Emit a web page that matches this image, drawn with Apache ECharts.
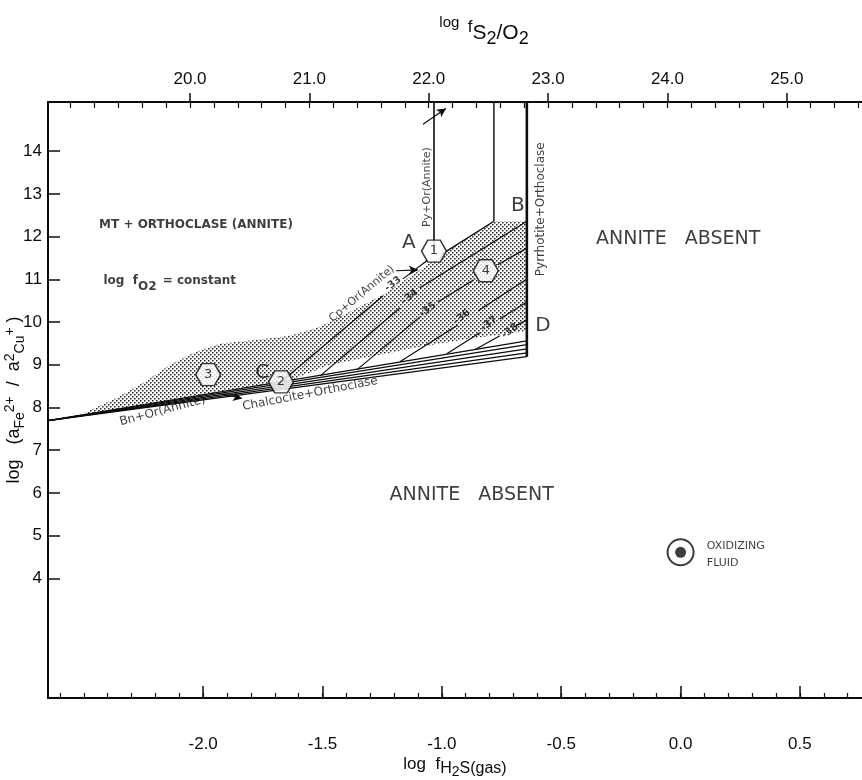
<!DOCTYPE html>
<html><head><meta charset="utf-8">
<script src="https://cdn.jsdelivr.net/npm/echarts@6/dist/echarts.min.js"></script>
<style>html,body{margin:0;padding:0;background:#fff}#c{width:862px;height:780px}</style>
</head><body><div id="c"></div>
<script>
// ---------- axis ticks ----------
const bottomMajorTicks = [-2.0, -1.5, -1.0, -0.5, 0.0, 0.5];
const bottomMinorTicks = [-2.6,-2.5,-2.4,-2.3,-2.2,-2.1,-2.0,-1.9,-1.8,-1.7,-1.6,-1.5,-1.4,-1.3,-1.2,-1.1,-1.0,-0.9,-0.8,-0.7,-0.6,-0.5,-0.4,-0.3,-0.2,-0.1,0.0,0.1,0.2,0.3,0.4,0.5,0.6,0.7];
const topMajorTicks = [20, 21, 22, 23, 24, 25];
const topMinorTicks = [19.0,19.2,19.4,19.6,19.8,20.0,20.2,20.4,20.6,20.8,21.0,21.2,21.4,21.6,21.8,22.0,22.2,22.4,22.6,22.8,23.0,23.2,23.4,23.6,23.8,24.0,24.2,24.4,24.6,24.8,25.0,25.2,25.4,25.6];
const yTicks = [4, 5, 6, 7, 8, 9, 10, 11, 12, 13, 14];

// ---------- boundaries (x = log fH2S, y = log aFe2+/a2Cu+) ----------
const bundleStart = [-2.65, 7.69];
const bundleEndY = [9.19, 9.28, 9.37, 9.47, 9.56];
const bundleEndX = -0.644;
const verticalPy = [[-1.033, 15.15], [-1.033, 11.66]];
const verticalMid = [[-0.782, 15.15], [-0.782, 12.36]];
const verticalPo = [[-0.644, 15.15], [-0.644, 9.19]];
const upperBoundary = [[-1.000, 11.59], [-0.782, 12.36]];
// log fO2 contours (null = gap for label / symbol)
const contour33 = [[-1.674, 8.60], [-1.247, 10.61], null, [-1.163, 11.01], [-1.059, 11.45]];
const contour34 = [[-1.510, 8.74], [-1.176, 10.33], null, [-1.092, 10.80], [-0.644, 12.36]];
const contour35 = [[-1.356, 8.88], [-1.092, 10.12], null, [-1.017, 10.47], [-0.866, 10.99], null, [-0.766, 11.34], [-0.644, 11.73]];
const contour36 = [[-1.176, 9.07], [-0.933, 9.93], null, [-0.849, 10.26], [-0.644, 11.01]];
const contour37 = [[-0.979, 9.26], [-0.841, 9.75], null, [-0.757, 10.07], [-0.644, 10.47]];
const contour38 = [[-0.862, 9.35], [-0.757, 9.68], null, [-0.690, 9.91], [-0.644, 10.05]];
const contourLabels = ['-33', '-34', '-35', '-36', '-37', '-38'];
const contourLabelX = [-1.205, -1.134, -1.059, -0.916, -0.803, -0.715];
const contourLabelY = [10.89, 10.59, 10.29, 10.12, 9.96, 9.79];

// stippled (shaded) field
const stippleOutline = [[-2.494,7.88],[-2.368,8.21],[-2.243,8.60],[-2.138,9.00],[-2.033,9.30],[-1.929,9.49],[-1.782,9.58],[-1.636,9.68],[-1.510,9.89],[-1.385,10.24],[-1.247,10.64],[-1.092,11.22],[-1.008,11.55],[-0.782,12.36],[-0.644,12.36],[-0.644,9.79],[-0.883,9.61],[-1.092,9.42],[-1.301,9.19],[-1.469,9.00],[-1.636,8.63],[-2.013,8.28],[-2.347,7.97],[-2.494,7.84]];

// numbered points
const pointNames = ['1', '2', '3', '4'];
const pointX = [-1.033, -1.674, -1.979, -0.816];
const pointY = [11.66, 8.60, 8.77, 11.20];
// lettered points
const letterNames = ['A', 'B', 'C', 'D'];
const letterX = [-1.138, -0.682, -1.753, -0.577];
const letterY = [11.85, 12.71, 8.81, 9.91];
// oxidizing fluid
const fluidX = 0.0, fluidY = 4.61;
const fluidText = 'OXIDIZING\nFLUID';
const fluidTextX = 0.11, fluidTextY = 4.56;

// field / reaction labels
const fieldLabels = ['MT + ORTHOCLASE (ANNITE)', 'ANNITE   ABSENT', 'ANNITE   ABSENT', 'Py+Or(Annite)', 'Pyrrhotite+Orthoclase', 'Cp+Or(Annite)', 'Bn+Or(Annite)', 'Chalcocite+Orthoclase'];
const fieldLabelX = [-2.03, -0.01, -0.875, -1.063, -0.586, -1.335, -2.17, -1.552];
const fieldLabelY = [12.27, 11.94, 5.94, 13.16, 12.64, 10.66, 7.92, 8.32];
const fo2Text = 'log fO2 = constant';
const fo2X = -2.14, fo2Y = 10.96;

// arrows [from, to]
const arrows = [
  [[-1.079, 14.63], [-0.983, 15.00]],
  [[-1.192, 11.20], [-1.100, 11.22]],
  [[-1.921, 8.32], [-1.837, 8.21]]
];

// ---------- styles ----------
const INK = '#0c0c0c';
const FONT = 'Liberation Sans';
const ANN = 'DejaVu Sans';
const fieldStyle = [
  {fontSize: 12, fontWeight: 'bold', rotate: 0},
  {fontSize: 19, rotate: 0},
  {fontSize: 19, rotate: 0},
  {fontSize: 11, rotate: 90},
  {fontSize: 12, rotate: 90},
  {fontSize: 11, rotate: 40},
  {fontSize: 12, rotate: 15},
  {fontSize: 12, rotate: 11}
];

const pc = document.createElement('canvas');
pc.width = 4; pc.height = 4;
const g = pc.getContext('2d');
g.fillStyle = '#222';
g.fillRect(0, 0, 1.5, 1.5);
g.fillRect(2, 2, 1.5, 1.5);

function segments(poly) {
  const out = []; let cur = [];
  poly.forEach(p => { if (p === null) { if (cur.length) out.push(cur); cur = []; } else cur.push(p); });
  if (cur.length) out.push(cur);
  return out;
}
const series = [];
series.push({
  type: 'custom', z: 1, silent: true, data: [[0, 0]],
  renderItem: (params, api) => ({
    type: 'polygon',
    shape: {points: stippleOutline.map(p => api.coord(p))},
    style: {fill: {image: pc, repeat: 'repeat'}, stroke: null}
  })
});
function addLine(pts, w) {
  series.push({type: 'line', data: pts, showSymbol: false, symbol: 'none', silent: true, z: 2,
    lineStyle: {color: INK, width: w || 1.3}});
}
bundleEndY.forEach(y => addLine([bundleStart, [bundleEndX, y]], 1.3));
addLine(verticalPy, 1.6);
addLine(verticalMid, 1.4);
addLine(verticalPo, 2.6);
addLine(upperBoundary, 1.3);
[contour33, contour34, contour35, contour36, contour37, contour38].forEach(c => segments(c).forEach(s => addLine(s, 1.2)));

// arrows
series.push({type: 'line', data: [], silent: true, z: 3,
  markLine: {silent: true, symbol: ['none', 'arrow'], symbolSize: [7, 9], animation: false,
    label: {show: false}, lineStyle: {color: INK, width: 1.2, type: 'solid'},
    data: arrows.map((a, i) => [{coord: a[0], lineStyle: {curveness: i === 0 ? -0.2 : 0}}, {coord: a[1]}])}
});

// hexagons
series.push({type: 'scatter', z: 4, silent: true,
  symbol: 'path://M0,50 L25,4 L75,4 L100,50 L75,96 L25,96 Z', symbolSize: [25, 22], symbolKeepAspect: false,
  itemStyle: {color: '#fff', borderColor: INK, borderWidth: 1.5},
  label: {show: true, position: 'inside', formatter: p => p.name, color: INK, fontFamily: ANN, fontSize: 13},
  data: pointNames.map((n, i) => ({name: n, value: [pointX[i], pointY[i]]}))
});
// letters
series.push({type: 'scatter', z: 4, silent: true, symbolSize: 0,
  label: {show: true, position: 'inside', formatter: p => p.name, color: INK, fontFamily: ANN, fontSize: 20},
  data: letterNames.map((n, i) => ({name: n, value: [letterX[i], letterY[i]]}))
});
// contour labels
series.push({type: 'scatter', z: 4, silent: true, symbolSize: 0,
  label: {show: true, position: 'inside', rotate: 38, formatter: p => p.name, color: INK, fontFamily: ANN, fontSize: 10, fontWeight: 'bold'},
  data: contourLabels.map((n, i) => ({name: n, value: [contourLabelX[i], contourLabelY[i]]}))
});
// field labels
series.push({type: 'scatter', z: 4, silent: true, symbolSize: 0,
  data: fieldLabels.map((n, i) => ({name: n, value: [fieldLabelX[i], fieldLabelY[i]],
    label: Object.assign({show: true, position: 'inside', formatter: p => p.name, color: INK, fontFamily: ANN}, fieldStyle[i])}))
});
// log fO2 = constant
series.push({type: 'scatter', z: 4, silent: true, symbolSize: 0,
  data: [{name: fo2Text, value: [fo2X, fo2Y]}],
  label: {show: true, position: 'inside', formatter: '{a|log  f}{s|O2}{a| = constant}',
    rich: {a: {fontSize: 12, fontWeight: 'bold', fontFamily: ANN, color: INK},
           s: {fontSize: 12, fontWeight: 'bold', fontFamily: ANN, color: INK, padding: [12, 2, 0, 0]}}}
});
// oxidizing fluid
series.push({type: 'scatter', z: 4, silent: true, symbol: 'circle', symbolSize: 26,
  itemStyle: {color: '#fff', borderColor: INK, borderWidth: 2}, data: [[fluidX, fluidY]]});
series.push({type: 'scatter', z: 5, silent: true, symbol: 'circle', symbolSize: 11,
  itemStyle: {color: INK}, data: [[fluidX, fluidY]]});
series.push({type: 'scatter', z: 4, silent: true, symbolSize: 0,
  data: [{name: fluidText, value: [fluidTextX, fluidTextY]}],
  label: {show: true, position: 'right', distance: 0, formatter: p => p.name, color: INK, fontFamily: ANN, fontSize: 11, lineHeight: 17}
});

const axisLineStyle = {show: true, onZero: false, lineStyle: {color: INK, width: 2}};
const tickFont = {color: INK, fontFamily: FONT, fontSize: 17};
const option = {
  animation: false,
  backgroundColor: '#fff',
  grid: {left: 48, right: 0, top: 102, bottom: 82, containLabel: false, outerBoundsMode: 'none'},
  xAxis: [
    {type: 'value', position: 'bottom', min: -2.65, max: 0.76, splitLine: {show: false},
     axisLine: axisLineStyle,
     axisTick: {show: true, inside: true, length: 12, customValues: bottomMajorTicks, lineStyle: {color: INK, width: 1.5}},
     axisLabel: Object.assign({customValues: bottomMajorTicks, formatter: v => v.toFixed(1), margin: 38}, tickFont),
     name: '{n|log  f}{s|H}{ss|2}{s|S}{s|(gas)}', nameLocation: 'middle', nameGap: 52, nameMoveOverlap: false,
     nameTextStyle: {verticalAlign: 'top', rich: {n: {fontSize: 17, fontFamily: FONT, color: INK},
       s: {fontSize: 16, fontFamily: FONT, color: INK, padding: [9, 0, 0, 0]},
       ss: {fontSize: 14, fontFamily: FONT, color: INK, padding: [15, 0, 0, 0]}}}},
    {type: 'value', position: 'bottom', min: -2.65, max: 0.76, splitLine: {show: false},
     axisLine: {show: false},
     axisTick: {show: true, inside: true, length: 5, customValues: bottomMinorTicks, lineStyle: {color: INK, width: 1.2}},
     axisLabel: {show: false}},
    {type: 'value', position: 'top', min: 18.81, max: 25.63, splitLine: {show: false},
     axisLine: axisLineStyle,
     axisTick: {show: true, inside: false, length: 9, customValues: topMajorTicks, lineStyle: {color: INK, width: 1.5}},
     axisLabel: Object.assign({customValues: topMajorTicks, formatter: v => v.toFixed(1), margin: 14}, tickFont),
     name: '{n|log  }{f|f}{s|S}{ss|2}{s|/O}{ss|2}', nameLocation: 'middle', nameGap: 54, nameMoveOverlap: false,
     nameTextStyle: {padding: [0, 0, 0, 58], rich: {n: {fontSize: 15, fontFamily: FONT, color: INK, padding: [0, 0, 8, 0]},
       f: {fontSize: 17, fontFamily: FONT, color: INK},
       s: {fontSize: 21, fontFamily: FONT, color: INK, padding: [12, 0, 0, 0]},
       ss: {fontSize: 18, fontFamily: FONT, color: INK, padding: [24, 0, 0, 0]}}}},
    {type: 'value', position: 'top', min: 18.81, max: 25.63, splitLine: {show: false},
     axisLine: {show: false},
     axisTick: {show: true, inside: true, length: 6, customValues: topMinorTicks, lineStyle: {color: INK, width: 1.2}},
     axisLabel: {show: false}}
  ],
  yAxis: [
    {type: 'value', position: 'left', min: 1.2, max: 15.15, splitLine: {show: false},
     axisLine: axisLineStyle,
     axisTick: {show: true, inside: true, length: 12, customValues: yTicks, lineStyle: {color: INK, width: 1.5}},
     axisLabel: Object.assign({customValues: yTicks, formatter: v => String(v), margin: 6}, tickFont),
     name: '{n|log   (a}{s|Fe}{p|2+}{n|  /  a}{p|2}{s|Cu}{p|+}{n| )}', nameLocation: 'middle', nameGap: 21, nameRotate: 90, nameMoveOverlap: false,
     nameTextStyle: {rich: {n: {fontSize: 18, fontFamily: FONT, color: INK},
       s: {fontSize: 14, fontFamily: FONT, color: INK, padding: [11, 0, 0, 0]},
       p: {fontSize: 14, fontFamily: FONT, color: INK, padding: [0, 0, 9, 0]}}}}
  ],
  series: series
};
const chart = echarts.init(document.getElementById('c'));
chart.setOption(option);
</script>
</body></html>
